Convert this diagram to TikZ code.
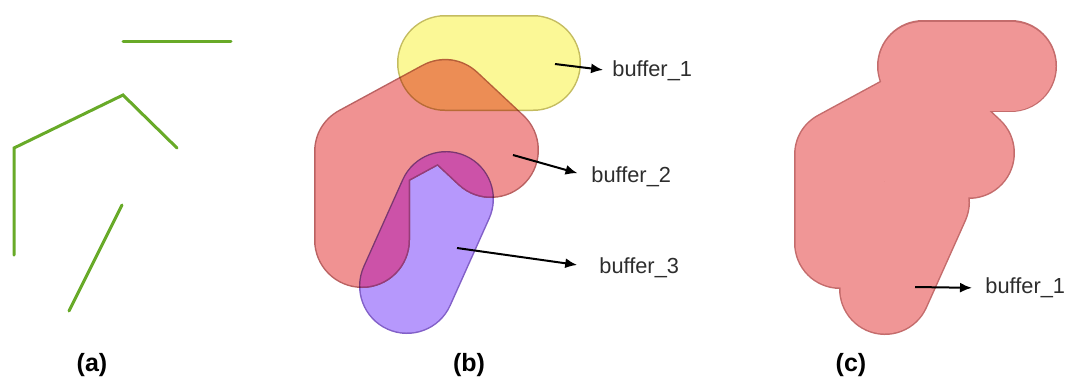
\documentclass[tikz,border=0pt]{standalone}
\usepackage{fontspec}
\setmainfont{Liberation Sans}
\usetikzlibrary{arrows.meta}
\definecolor{lineg}{RGB}{104,170,40}
\definecolor{yfill}{RGB}{251,248,150}
\definecolor{yedge}{RGB}{196,188,96}
\definecolor{rfill}{RGB}{240,146,146}
\definecolor{redge}{RGB}{186,98,98}
\definecolor{pfill}{RGB}{182,152,252}
\definecolor{pedge}{RGB}{130,96,200}
\definecolor{mfill}{RGB}{204,82,168}
\definecolor{medge}{RGB}{150,60,120}
\definecolor{cfill}{RGB}{240,150,150}
\definecolor{cedge}{RGB}{196,108,108}
\definecolor{txt}{RGB}{45,45,45}
\begin{document}
\begin{tikzpicture}[x=0.5pt,y=-0.5pt,
  seg/.style={draw=lineg,line width=1.5pt,line cap=round,line join=miter},
  bufout/.style={line width=48pt,line cap=round,line join=round},
  bufin/.style={line width=46.5pt,line cap=round,line join=round},
  cout/.style={line width=46pt,line cap=round,line join=round,draw=cedge},
  cin/.style={line width=44.5pt,line cap=round,line join=round,draw=cfill},
  arr/.style={draw=black,line width=1pt,-{Latex[length=6pt,width=5pt]}},
  lab/.style={font=\fontsize{10.9}{13}\selectfont,text=txt,inner sep=0pt,anchor=west},
  captxt/.style={font=\fontsize{12.5}{15}\selectfont\bfseries,inner sep=0pt}]
\useasboundingbox (0,0) rectangle (1065,382);
% ---------- (a) ----------
\coordinate (a1) at (123,41);  \coordinate (a2) at (231,41);
\coordinate (a3) at (14,255);  \coordinate (a4) at (14,148);
\coordinate (a5) at (123,95);  \coordinate (a6) at (177,148);
\coordinate (a7) at (122,205); \coordinate (a8) at (69,311);
\draw[seg] (a1) -- (a2);
\draw[seg] (a3) -- (a4) -- (a5) -- (a6);
\draw[seg] (a7) -- (a8);
% ---------- (b) ----------
\coordinate (y1) at (445,63);  \coordinate (y2) at (533,63);
\coordinate (r1) at (362,240); \coordinate (r2) at (362,152);
\coordinate (r3) at (445,107); \coordinate (r4) at (491,150);
\coordinate (p1) at (446,199); \coordinate (p2) at (407,286);
\begin{scope}[blend mode=multiply]
  \begin{scope}[transparency group]
    \draw[bufout,draw=yedge] (y1) -- (y2);
    \draw[bufin,draw=yfill] (y1) -- (y2);
  \end{scope}
\end{scope}
\begin{scope}[blend mode=multiply]
  \begin{scope}[transparency group]
    \draw[bufout,draw=redge] (r1) -- (r2) -- (r3) -- (r4);
    \draw[bufin,draw=rfill] (r1) -- (r2) -- (r3) -- (r4);
  \end{scope}
\end{scope}
\begin{scope}[blend mode=multiply]
  \begin{scope}[transparency group]
    \draw[bufout,draw=pedge] (p1) -- (p2);
    \draw[bufin,draw=pfill] (p1) -- (p2);
  \end{scope}
\end{scope}
% overlap of buffer_2 and buffer_3 in its own colour
\begin{scope}
  \clip[shift={(p1)},rotate=-114.15,rounded corners=23.2pt]
    (-23.25pt,-23.25pt) rectangle (70.92pt,23.25pt);
  \draw[bufout,draw=medge] (r1) -- (r2) -- (r3) -- (r4);
  \draw[bufin,draw=mfill] (r1) -- (r2) -- (r3) -- (r4);
\end{scope}
\node[lab] (b1) at (612,71) {buffer\_1};
\node[lab] (b2) at (591,177) {buffer\_2};
\node[lab] (b3) at (599,268) {buffer\_3};
\coordinate (b1s) at (555,64);
\coordinate (b2s) at (513,155);
\coordinate (b3s) at (457,248);
\draw[arr,shorten >=4.5pt] (b1s) -- (b1.west);
\draw[arr,shorten >=7pt] (b2s) -- (b2.west);
\draw[arr,shorten >=11pt] (b3s) -- (b3.west);
% ---------- (c) ----------
\begin{scope}[shift={(478,3)}]
  \draw[cout] (445,63) -- (533,63);
  \draw[cout] (362,240) -- (362,152) -- (445,107) -- (491,150);
  \draw[cout] (446,199) -- (407,286);
  \draw[cin] (445,63) -- (533,63);
  \draw[cin] (362,240) -- (362,152) -- (445,107) -- (491,150);
  \draw[cin] (446,199) -- (407,286);
\end{scope}
\node[lab] (c1) at (985,288) {buffer\_1};
\coordinate (c1s) at (915,287);
\draw[arr,shorten >=6.5pt] (c1s) -- (c1.west);
% ---------- captions ----------
\node[captxt] (ca) at (92,365) {(a)};
\node[captxt] (cb) at (469,365) {(b)};
\node[captxt] (cc) at (851,365) {(c)};
\end{tikzpicture}
\end{document}
